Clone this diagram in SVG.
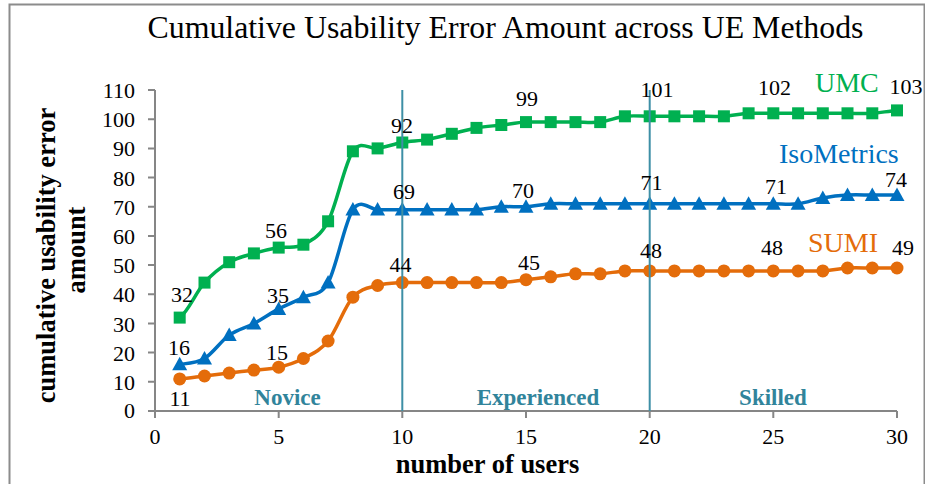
<svg xmlns="http://www.w3.org/2000/svg" xmlns:xlink="http://www.w3.org/1999/xlink" width="925" height="484" viewBox="0 0 925 484">
<style>
.serif{font-family:"Liberation Serif","Times New Roman",serif;}
.tick{font-size:22px;fill:#000;}
.lbl{font-size:22px;fill:#000;text-anchor:middle;}
.phase{font-size:23px;font-weight:bold;fill:#31849B;text-anchor:middle;}
.axt{font-size:26.5px;font-weight:bold;fill:#000;text-anchor:middle;}
.ser{fill:none;stroke-width:3.5;vector-effect:non-scaling-stroke;stroke-linejoin:round;stroke-linecap:round;}
.ax{stroke:#868686;stroke-width:2;fill:none;}
.phaseline{stroke:#3E8FA6;stroke-width:2;}
</style>
<defs>
<rect id="sq" x="-6" y="-6" width="12" height="12"/>
<path id="tri" d="M0,-7.5 L7.5,6 L-7.5,6 Z"/>
<circle id="ci" cx="0" cy="0" r="6.5"/>
</defs>
<rect x="0" y="0" width="925" height="484" fill="#fff"/>
<rect x="9.5" y="4.5" width="915" height="500" fill="#fff" stroke="#8c8c8c" stroke-width="2"/>

<text id="title" class="serif" x="505.5" y="38" font-size="31.5" text-anchor="middle" fill="#000" textLength="716" lengthAdjust="spacingAndGlyphs">Cumulative Usability Error Amount across UE Methods</text>

<g id="axes">
<path class="ax" d="M155,90 V411 H897"/>
<path class="ax" d="M148,90 H155 M148,119.2 H155 M148,148.4 H155 M148,177.5 H155 M148,206.7 H155 M148,235.9 H155 M148,265.1 H155 M148,294.3 H155 M148,323.5 H155 M148,352.6 H155 M148,381.8 H155 M148,411 H155"/>
<path class="ax" d="M155,411 V418 M278.7,411 V418 M402.3,411 V418 M526,411 V418 M649.7,411 V418 M773.3,411 V418 M897,411 V418"/>
<g class="serif tick" text-anchor="end">
<text x="135" y="98">110</text>
<text x="135" y="127.2">100</text>
<text x="135" y="156.4">90</text>
<text x="135" y="185.5">80</text>
<text x="135" y="214.7">70</text>
<text x="135" y="243.9">60</text>
<text x="135" y="273.1">50</text>
<text x="135" y="302.3">40</text>
<text x="135" y="331.5">30</text>
<text x="135" y="360.6">20</text>
<text x="135" y="389.8">10</text>
<text x="135" y="418">0</text>
</g>
<g class="serif tick" text-anchor="middle">
<text x="155" y="444">0</text>
<text x="278.7" y="444">5</text>
<text x="402.3" y="444">10</text>
<text x="526" y="444">15</text>
<text x="649.7" y="444">20</text>
<text x="773.3" y="444">25</text>
<text x="897" y="444">30</text>
</g>
<text class="serif axt" x="487.5" y="472.5" font-size="25">number of users</text>
<text class="serif axt" transform="translate(55,255.5) rotate(-90)" font-size="27">cumulative usability error</text>
<text class="serif axt" transform="translate(85,250) rotate(-90)">amount</text>
</g>

<g id="connectors">
<g transform="matrix(24.733 0 0 -2.91818 155 411)">
<path id="line-umc" class="ser" stroke="#00B050" d="M1 32 C1.333 34 1.667 40.833 2 44 C2.333 47.167 2.667 49.333 3 51 C3.333 52.667 3.667 53.167 4 54 C4.333 54.833 4.667 55.5 5 56 C5.333 56.5 5.667 55.5 6 57 C6.333 58.5 6.667 59.667 7 65 C7.333 70.333 7.667 84.833 8 89 C8.333 93.167 8.667 89.5 9 90 C9.333 90.5 9.667 91.5 10 92 C10.333 92.5 10.667 92.5 11 93 C11.333 93.5 11.667 94.333 12 95 C12.333 95.667 12.667 96.5 13 97 C13.333 97.5 13.667 97.667 14 98 C14.333 98.333 14.667 98.833 15 99 C15.333 99.167 15.667 99 16 99 C16.333 99 16.667 99 17 99 C17.333 99 17.667 98.667 18 99 C18.333 99.333 18.667 100.667 19 101 C19.333 101.333 19.667 101 20 101 C20.333 101 20.667 101 21 101 C21.333 101 21.667 101 22 101 C22.333 101 22.667 100.833 23 101 C23.333 101.167 23.667 101.833 24 102 C24.333 102.167 24.667 102 25 102 L28 102 C28.333 102 28.667 101.833 29 102 C29.333 102.167 29.667 102.833 30 103"/>
<path id="line-iso" class="ser" stroke="#0070C0" d="M1 16 C1.333 16.333 1.667 16.333 2 18 C2.333 19.667 2.667 24 3 26 C3.333 28 3.667 28.5 4 30 C4.333 31.5 4.667 33.5 5 35 C5.333 36.5 5.667 37.5 6 39 C6.333 40.5 6.667 39 7 44 C7.333 49 7.667 64.833 8 69 C8.333 73.167 8.667 69 9 69 L12 69 C12.333 69 12.667 68.833 13 69 C13.333 69.167 13.667 69.833 14 70 C14.333 70.167 14.667 69.833 15 70 C15.333 70.167 15.667 70.833 16 71 C16.333 71.167 16.667 71 17 71 L25 71 C25.333 71 25.667 70.667 26 71 C26.333 71.333 26.667 72.5 27 73 C27.333 73.5 27.667 73.833 28 74 C28.333 74.167 28.667 74 29 74 L30 74"/>
<path id="line-sumi" class="ser" stroke="#E46C0A" d="M1 11 C1.333 11.167 1.667 11.667 2 12 C2.333 12.333 2.667 12.667 3 13 C3.333 13.333 3.667 13.667 4 14 C4.333 14.333 4.667 14.333 5 15 C5.333 15.667 5.667 16.5 6 18 C6.333 19.5 6.667 20.5 7 24 C7.333 27.5 7.667 35.833 8 39 C8.333 42.167 8.667 42.167 9 43 C9.333 43.833 9.667 43.833 10 44 C10.333 44.167 10.667 44 11 44 L13 44 C13.333 44 13.667 43.833 14 44 C14.333 44.167 14.667 44.667 15 45 C15.333 45.333 15.667 45.667 16 46 C16.333 46.333 16.667 46.833 17 47 C17.333 47.167 17.667 46.833 18 47 C18.333 47.167 18.667 47.833 19 48 C19.333 48.167 19.667 48 20 48 L26 48 C26.333 48 26.667 47.833 27 48 C27.333 48.167 27.667 48.833 28 49 C28.333 49.167 28.667 49 29 49 L30 49"/>
</g>
</g>

<g id="markers-umc" fill="#00B050">
<use href="#sq" x="179.7" y="317.6"/><use href="#sq" x="204.5" y="282.6"/><use href="#sq" x="229.2" y="262.2"/><use href="#sq" x="253.9" y="253.4"/><use href="#sq" x="278.7" y="247.6"/><use href="#sq" x="303.4" y="244.7"/><use href="#sq" x="328.1" y="221.3"/><use href="#sq" x="352.9" y="151.3"/><use href="#sq" x="377.6" y="148.4"/><use href="#sq" x="402.3" y="142.5"/><use href="#sq" x="427.1" y="139.6"/><use href="#sq" x="451.8" y="133.8"/><use href="#sq" x="476.5" y="127.9"/><use href="#sq" x="501.3" y="125"/><use href="#sq" x="526" y="122.1"/><use href="#sq" x="550.7" y="122.1"/><use href="#sq" x="575.5" y="122.1"/><use href="#sq" x="600.2" y="122.1"/><use href="#sq" x="624.9" y="116.3"/><use href="#sq" x="649.7" y="116.3"/><use href="#sq" x="674.4" y="116.3"/><use href="#sq" x="699.1" y="116.3"/><use href="#sq" x="723.9" y="116.3"/><use href="#sq" x="748.6" y="113.3"/><use href="#sq" x="773.3" y="113.3"/><use href="#sq" x="798.1" y="113.3"/><use href="#sq" x="822.8" y="113.3"/><use href="#sq" x="847.5" y="113.3"/><use href="#sq" x="872.3" y="113.3"/><use href="#sq" x="897" y="110.4"/>
</g>
<g id="markers-iso" fill="#0070C0">
<use href="#tri" x="179.7" y="364.3"/><use href="#tri" x="204.5" y="358.5"/><use href="#tri" x="229.2" y="335.1"/><use href="#tri" x="253.9" y="323.5"/><use href="#tri" x="278.7" y="308.9"/><use href="#tri" x="303.4" y="297.2"/><use href="#tri" x="328.1" y="282.6"/><use href="#tri" x="352.9" y="209.6"/><use href="#tri" x="377.6" y="209.6"/><use href="#tri" x="402.3" y="209.6"/><use href="#tri" x="427.1" y="209.6"/><use href="#tri" x="451.8" y="209.6"/><use href="#tri" x="476.5" y="209.6"/><use href="#tri" x="501.3" y="206.7"/><use href="#tri" x="526" y="206.7"/><use href="#tri" x="550.7" y="203.8"/><use href="#tri" x="575.5" y="203.8"/><use href="#tri" x="600.2" y="203.8"/><use href="#tri" x="624.9" y="203.8"/><use href="#tri" x="649.7" y="203.8"/><use href="#tri" x="674.4" y="203.8"/><use href="#tri" x="699.1" y="203.8"/><use href="#tri" x="723.9" y="203.8"/><use href="#tri" x="748.6" y="203.8"/><use href="#tri" x="773.3" y="203.8"/><use href="#tri" x="798.1" y="203.8"/><use href="#tri" x="822.8" y="198"/><use href="#tri" x="847.5" y="195.1"/><use href="#tri" x="872.3" y="195.1"/><use href="#tri" x="897" y="195.1"/>
</g>
<g id="markers-sumi" fill="#E46C0A">
<use href="#ci" x="179.7" y="378.9"/><use href="#ci" x="204.5" y="376"/><use href="#ci" x="229.2" y="373.1"/><use href="#ci" x="253.9" y="370.1"/><use href="#ci" x="278.7" y="367.2"/><use href="#ci" x="303.4" y="358.5"/><use href="#ci" x="328.1" y="341"/><use href="#ci" x="352.9" y="297.2"/><use href="#ci" x="377.6" y="285.5"/><use href="#ci" x="402.3" y="282.6"/><use href="#ci" x="427.1" y="282.6"/><use href="#ci" x="451.8" y="282.6"/><use href="#ci" x="476.5" y="282.6"/><use href="#ci" x="501.3" y="282.6"/><use href="#ci" x="526" y="279.7"/><use href="#ci" x="550.7" y="276.8"/><use href="#ci" x="575.5" y="273.8"/><use href="#ci" x="600.2" y="273.8"/><use href="#ci" x="624.9" y="270.9"/><use href="#ci" x="649.7" y="270.9"/><use href="#ci" x="674.4" y="270.9"/><use href="#ci" x="699.1" y="270.9"/><use href="#ci" x="723.9" y="270.9"/><use href="#ci" x="748.6" y="270.9"/><use href="#ci" x="773.3" y="270.9"/><use href="#ci" x="798.1" y="270.9"/><use href="#ci" x="822.8" y="270.9"/><use href="#ci" x="847.5" y="268"/><use href="#ci" x="872.3" y="268"/><use href="#ci" x="897" y="268"/>
</g>

<g id="phases">
<line class="phaseline" x1="402.3" y1="90" x2="402.3" y2="411"/>
<line class="phaseline" x1="649.7" y1="90" x2="649.7" y2="411"/>
<text class="serif phase" x="287.5" y="404.5">Novice</text>
<text class="serif phase" x="538" y="405">Experienced</text>
<text class="serif phase" x="773" y="405">Skilled</text>
</g>

<g id="data-labels" class="serif">
<text class="lbl" x="182" y="302">32</text>
<text class="lbl" x="276" y="238">56</text>
<text class="lbl" x="402" y="133">92</text>
<text class="lbl" x="527" y="106">99</text>
<text class="lbl" x="657" y="97">101</text>
<text class="lbl" x="774.5" y="95">102</text>
<text class="lbl" x="906" y="94">103</text>
<text class="lbl" x="179" y="355">16</text>
<text class="lbl" x="278" y="302.5">35</text>
<text class="lbl" x="404" y="198.5">69</text>
<text class="lbl" x="523" y="197.5">70</text>
<text class="lbl" x="651.5" y="190">71</text>
<text class="lbl" x="776" y="193.5">71</text>
<text class="lbl" x="896" y="186.5">74</text>
<text class="lbl" x="180" y="405.5">11</text>
<text class="lbl" x="277" y="359.5">15</text>
<text class="lbl" x="400.5" y="272">44</text>
<text class="lbl" x="529" y="270">45</text>
<text class="lbl" x="651" y="258">48</text>
<text class="lbl" x="772" y="255">48</text>
<text class="lbl" x="903" y="255">49</text>
</g>
<g id="series-names" class="serif" font-size="28">
<text x="779" y="163" fill="#0070C0">IsoMetrics</text>
<text x="815" y="92" fill="#00B050">UMC</text>
<text x="808" y="252" fill="#E46C0A">SUMI</text>
</g>
</svg>
